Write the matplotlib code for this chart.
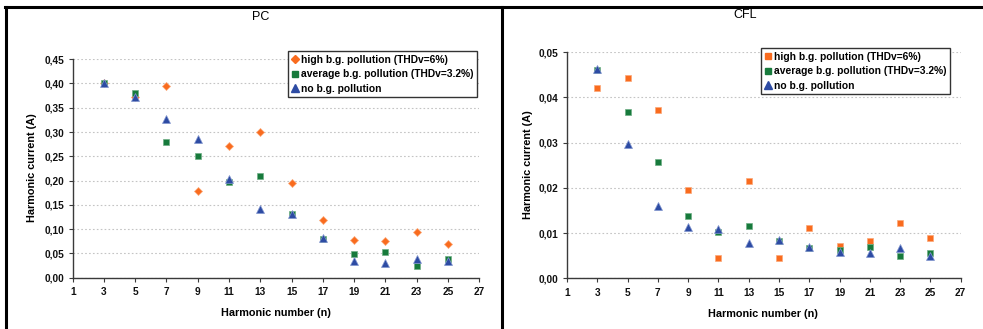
import matplotlib
matplotlib.use('Agg')
import matplotlib.pyplot as plt
from matplotlib.lines import Line2D
from matplotlib.ticker import FuncFormatter, MultipleLocator, FixedLocator

plt.rcParams['font.family'] = ['Liberation Sans', 'DejaVu Sans']

# Harmonic orders
harmonics = [3, 5, 7, 9, 11, 13, 15, 17, 19, 21, 23, 25]
xticks = [1, 3, 5, 7, 9, 11, 13, 15, 17, 19, 21, 23, 25, 27]

# PC harmonic currents (A)
pc_high = [0.400, 0.372, 0.394, 0.179, 0.272, 0.300, 0.196, 0.118, 0.078, 0.076, 0.094, 0.069]
pc_avg = [0.402, 0.381, 0.280, 0.251, 0.198, 0.209, 0.131, 0.079, 0.049, 0.052, 0.025, 0.039]
pc_none = [0.402, 0.372, 0.326, 0.285, 0.204, 0.141, 0.132, 0.082, 0.034, 0.030, 0.039, 0.034]

# CFL harmonic currents (A)
cfl_high = [0.0421, 0.0444, 0.0373, 0.0195, 0.0044, 0.0215, 0.0044, 0.0112, 0.0071, 0.0083, 0.0122, 0.0090]
cfl_avg = [0.0461, 0.0368, 0.0258, 0.0137, 0.0102, 0.0116, 0.0083, 0.0068, 0.0063, 0.0069, 0.0049, 0.0056]
cfl_none = [0.0462, 0.0296, 0.0161, 0.0114, 0.0108, 0.0078, 0.0084, 0.0069, 0.0058, 0.0055, 0.0066, 0.0050]

labels = ['high b.g. pollution (THDv=6%)',
          'average b.g. pollution (THDv=3.2%)',
          'no b.g. pollution']

ORANGE = '#F96B1E'
GREEN = '#177A3C'
BLUE = '#2D4BA3'
AXC = '#3A3A3A'


def comma_fmt(v, pos):
    return ('%.2f' % v).replace('.', ',')


def setup(ax, ymax, ystep):
    ax.set_xlim(1, 27)
    ax.set_ylim(0, ymax)
    ax.xaxis.set_major_locator(FixedLocator(xticks))
    ax.yaxis.set_major_locator(MultipleLocator(ystep))
    ax.yaxis.set_major_formatter(FuncFormatter(comma_fmt))
    for s in ['top', 'right']:
        ax.spines[s].set_visible(False)
    for s in ['left', 'bottom']:
        ax.spines[s].set_color(AXC)
        ax.spines[s].set_linewidth(1.0)
    ax.tick_params(axis='x', direction='out', length=3, width=0.8, color=AXC, pad=4)
    ax.tick_params(axis='y', direction='out', length=3, width=0.8, color=AXC, pad=3)
    for t in ax.get_xticklabels() + ax.get_yticklabels():
        t.set_fontsize(7.3)
        t.set_fontweight('bold')
        t.set_color('#111111')
    ax.yaxis.grid(True, color='#C4C4C4', linestyle=(0, (1.5, 2)), linewidth=0.8)
    ax.set_axisbelow(True)


fig = plt.figure(figsize=(9.83, 3.29), dpi=100)

# PC panel
ax1 = fig.add_axes([0.0740, 0.156, 0.4133, 0.664])
ax1.plot(harmonics, pc_high, linestyle='none', marker='D', markersize=3.8, color=ORANGE,
         markeredgecolor='#FBA878', markeredgewidth=0.5)
ax1.plot(harmonics, pc_avg, linestyle='none', marker='s', markersize=4.8, color=GREEN,
         markeredgecolor='#6FAF85', markeredgewidth=0.5)
ax1.plot(harmonics, pc_none, linestyle='none', marker='^', markersize=5.2, color=BLUE,
         markeredgecolor='#8296CF', markeredgewidth=0.5)
setup(ax1, 0.45, 0.05)

# CFL panel
ax2 = fig.add_axes([0.5768, 0.1541, 0.4005, 0.687])
ax2.plot(harmonics, cfl_high, linestyle='none', marker='s', markersize=4.8, color=ORANGE,
         markeredgecolor='#FBA878', markeredgewidth=0.5)
ax2.plot(harmonics, cfl_avg, linestyle='none', marker='s', markersize=4.8, color=GREEN,
         markeredgecolor='#6FAF85', markeredgewidth=0.5)
ax2.plot(harmonics, cfl_none, linestyle='none', marker='^', markersize=5.2, color=BLUE,
         markeredgecolor='#8296CF', markeredgewidth=0.5)
setup(ax2, 0.05, 0.01)

# legends
pc_handles = [Line2D([], [], linestyle='none', marker='D', markersize=3.8, color=ORANGE),
              Line2D([], [], linestyle='none', marker='s', markersize=4.8, color=GREEN),
              Line2D([], [], linestyle='none', marker='^', markersize=5.2, color=BLUE)]
cfl_handles = [Line2D([], [], linestyle='none', marker='s', markersize=4.8, color=ORANGE),
               Line2D([], [], linestyle='none', marker='s', markersize=4.8, color=GREEN),
               Line2D([], [], linestyle='none', marker='^', markersize=5.2, color=BLUE)]

for ax, handles, anchor in [(ax1, pc_handles, (0.995, 1.038)),
                            (ax2, cfl_handles, (0.973, 1.019))]:
    leg = ax.legend(handles, labels, loc='upper right', bbox_to_anchor=anchor,
                    borderaxespad=0, fancybox=False, framealpha=1, edgecolor='#333333',
                    prop={'size': 7.4, 'weight': 'bold'}, handlelength=0.6,
                    handletextpad=0.3, labelspacing=0.45, borderpad=0.35)
    leg.get_frame().set_linewidth(1.0)

# titles and axis labels
fig.text(0.2655, 0.948, 'PC', ha='center', va='center', fontsize=9)
fig.text(0.758, 0.954, 'CFL', ha='center', va='center', fontsize=9)
fig.text(0.2806, 1 - 313 / 329, 'Harmonic number (n)', ha='center', va='center',
         fontsize=7.8, fontweight='bold')
fig.text(0.7762, 1 - 314 / 329, 'Harmonic number (n)', ha='center', va='center',
         fontsize=7.8, fontweight='bold')
fig.text(32 / 983, 1 - 167.5 / 329, 'Harmonic current (A)', ha='center', va='center',
         rotation=90, fontsize=7.8, fontweight='bold')
fig.text(528 / 983, 1 - 165 / 329, 'Harmonic current (A)', ha='center', va='center',
         rotation=90, fontsize=7.8, fontweight='bold')

# panel frame lines
frame = dict(color='black', linewidth=2.2, transform=fig.transFigure)
fig.add_artist(Line2D([5 / 983, 1], [1 - 7 / 329, 1 - 7 / 329], **frame))
fig.add_artist(Line2D([6 / 983, 6 / 983], [1 - 7 / 329, 1 / 329], **frame))
fig.add_artist(Line2D([502 / 983, 502 / 983], [1 - 7 / 329, 1 / 329], **frame))

fig.savefig('out.png', dpi=100)
